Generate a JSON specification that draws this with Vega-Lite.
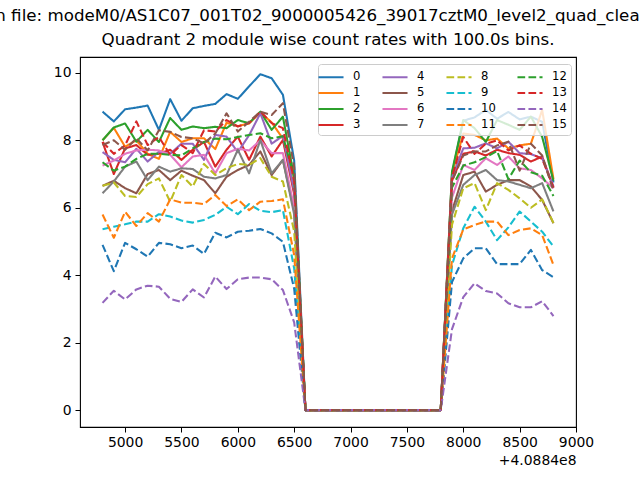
{
  "$schema": "https://vega.github.io/schema/vega-lite/v6.json",
  "width": 496,
  "height": 370,
  "autosize": {"type": "none"},
  "padding": {"left": 80, "top": 57, "right": 64, "bottom": 53},
  "background": "white",
  "title": {
    "text": ["Run file: modeM0/AS1C07_001T02_9000005426_39017cztM0_level2_quad_clean.evt", "Quadrant 2 module wise count rates with 100.0s bins."],
    "anchor": "middle",
    "font": "DejaVu Sans",
    "fontSize": 16.7,
    "fontWeight": "normal",
    "color": "black",
    "lineHeight": 24,
    "offset": 8
  },
  "data": {"values": [
{"t":4800,"m":0,"v":8.85},{"t":4900,"m":0,"v":8.56},{"t":5000,"m":0,"v":8.92},{"t":5100,"m":0,"v":8.97},{"t":5200,"m":0,"v":9.03},{"t":5300,"m":0,"v":8.31},{"t":5400,"m":0,"v":9.22},{"t":5500,"m":0,"v":8.58},{"t":5600,"m":0,"v":8.95},{"t":5700,"m":0,"v":9.02},{"t":5800,"m":0,"v":9.08},{"t":5900,"m":0,"v":9.37},{"t":6000,"m":0,"v":9.23},{"t":6100,"m":0,"v":9.6},{"t":6200,"m":0,"v":9.96},{"t":6300,"m":0,"v":9.84},{"t":6400,"m":0,"v":9.35},{"t":6500,"m":0,"v":7.4},{"t":6600,"m":0,"v":0},{"t":6700,"m":0,"v":0},{"t":6800,"m":0,"v":0},{"t":6900,"m":0,"v":0},{"t":7000,"m":0,"v":0},{"t":7100,"m":0,"v":0},{"t":7200,"m":0,"v":0},{"t":7300,"m":0,"v":0},{"t":7400,"m":0,"v":0},{"t":7500,"m":0,"v":0},{"t":7600,"m":0,"v":0},{"t":7700,"m":0,"v":0},{"t":7800,"m":0,"v":0},{"t":7900,"m":0,"v":7.0},{"t":8000,"m":0,"v":8.58},{"t":8100,"m":0,"v":8.68},{"t":8200,"m":0,"v":8.9},{"t":8300,"m":0,"v":8.64},{"t":8400,"m":0,"v":8.84},{"t":8500,"m":0,"v":8.62},{"t":8600,"m":0,"v":8.7},{"t":8700,"m":0,"v":8.55},{"t":8800,"m":0,"v":6.75},
{"t":4800,"m":1,"v":8.0},{"t":4900,"m":1,"v":8.37},{"t":5000,"m":1,"v":7.81},{"t":5100,"m":1,"v":8.0},{"t":5200,"m":1,"v":7.6},{"t":5300,"m":1,"v":7.45},{"t":5400,"m":1,"v":8.25},{"t":5500,"m":1,"v":7.95},{"t":5600,"m":1,"v":8.06},{"t":5700,"m":1,"v":8.06},{"t":5800,"m":1,"v":7.74},{"t":5900,"m":1,"v":8.52},{"t":6000,"m":1,"v":8.42},{"t":6100,"m":1,"v":8.5},{"t":6200,"m":1,"v":8.83},{"t":6300,"m":1,"v":8.53},{"t":6400,"m":1,"v":8.05},{"t":6500,"m":1,"v":6.6},{"t":6600,"m":1,"v":0},{"t":6700,"m":1,"v":0},{"t":6800,"m":1,"v":0},{"t":6900,"m":1,"v":0},{"t":7000,"m":1,"v":0},{"t":7100,"m":1,"v":0},{"t":7200,"m":1,"v":0},{"t":7300,"m":1,"v":0},{"t":7400,"m":1,"v":0},{"t":7500,"m":1,"v":0},{"t":7600,"m":1,"v":0},{"t":7700,"m":1,"v":0},{"t":7800,"m":1,"v":0},{"t":7900,"m":1,"v":7.0},{"t":8000,"m":1,"v":8.2},{"t":8100,"m":1,"v":8.16},{"t":8200,"m":1,"v":8.0},{"t":8300,"m":1,"v":8.05},{"t":8400,"m":1,"v":7.76},{"t":8500,"m":1,"v":7.85},{"t":8600,"m":1,"v":7.9},{"t":8700,"m":1,"v":8.9},{"t":8800,"m":1,"v":6.85},
{"t":4800,"m":2,"v":8.0},{"t":4900,"m":2,"v":8.38},{"t":5000,"m":2,"v":8.5},{"t":5100,"m":2,"v":7.96},{"t":5200,"m":2,"v":8.31},{"t":5300,"m":2,"v":7.95},{"t":5400,"m":2,"v":8.66},{"t":5500,"m":2,"v":8.31},{"t":5600,"m":2,"v":8.41},{"t":5700,"m":2,"v":8.36},{"t":5800,"m":2,"v":8.4},{"t":5900,"m":2,"v":8.36},{"t":6000,"m":2,"v":8.6},{"t":6100,"m":2,"v":8.51},{"t":6200,"m":2,"v":8.85},{"t":6300,"m":2,"v":8.31},{"t":6400,"m":2,"v":8.7},{"t":6500,"m":2,"v":6.9},{"t":6600,"m":2,"v":0},{"t":6700,"m":2,"v":0},{"t":6800,"m":2,"v":0},{"t":6900,"m":2,"v":0},{"t":7000,"m":2,"v":0},{"t":7100,"m":2,"v":0},{"t":7200,"m":2,"v":0},{"t":7300,"m":2,"v":0},{"t":7400,"m":2,"v":0},{"t":7500,"m":2,"v":0},{"t":7600,"m":2,"v":0},{"t":7700,"m":2,"v":0},{"t":7800,"m":2,"v":0},{"t":7900,"m":2,"v":7.07},{"t":8000,"m":2,"v":8.6},{"t":8100,"m":2,"v":8.36},{"t":8200,"m":2,"v":7.95},{"t":8300,"m":2,"v":8.6},{"t":8400,"m":2,"v":8.46},{"t":8500,"m":2,"v":8.31},{"t":8600,"m":2,"v":8.7},{"t":8700,"m":2,"v":8.1},{"t":8800,"m":2,"v":6.8},
{"t":4800,"m":3,"v":7.95},{"t":4900,"m":3,"v":7.0},{"t":5000,"m":3,"v":7.76},{"t":5100,"m":3,"v":7.86},{"t":5200,"m":3,"v":7.57},{"t":5300,"m":3,"v":7.6},{"t":5400,"m":3,"v":7.72},{"t":5500,"m":3,"v":7.42},{"t":5600,"m":3,"v":7.72},{"t":5700,"m":3,"v":7.95},{"t":5800,"m":3,"v":7.22},{"t":5900,"m":3,"v":7.72},{"t":6000,"m":3,"v":8.11},{"t":6100,"m":3,"v":7.42},{"t":6200,"m":3,"v":8.11},{"t":6300,"m":3,"v":7.52},{"t":6400,"m":3,"v":8.01},{"t":6500,"m":3,"v":6.4},{"t":6600,"m":3,"v":0},{"t":6700,"m":3,"v":0},{"t":6800,"m":3,"v":0},{"t":6900,"m":3,"v":0},{"t":7000,"m":3,"v":0},{"t":7100,"m":3,"v":0},{"t":7200,"m":3,"v":0},{"t":7300,"m":3,"v":0},{"t":7400,"m":3,"v":0},{"t":7500,"m":3,"v":0},{"t":7600,"m":3,"v":0},{"t":7700,"m":3,"v":0},{"t":7800,"m":3,"v":0},{"t":7900,"m":3,"v":6.8},{"t":8000,"m":3,"v":7.6},{"t":8100,"m":3,"v":7.67},{"t":8200,"m":3,"v":7.55},{"t":8300,"m":3,"v":7.72},{"t":8400,"m":3,"v":7.62},{"t":8500,"m":3,"v":7.57},{"t":8600,"m":3,"v":7.37},{"t":8700,"m":3,"v":7.52},{"t":8800,"m":3,"v":6.6},
{"t":4800,"m":4,"v":7.65},{"t":4900,"m":4,"v":7.42},{"t":5000,"m":4,"v":7.35},{"t":5100,"m":4,"v":7.75},{"t":5200,"m":4,"v":7.37},{"t":5300,"m":4,"v":7.66},{"t":5400,"m":4,"v":7.6},{"t":5500,"m":4,"v":7.9},{"t":5600,"m":4,"v":7.9},{"t":5700,"m":4,"v":7.42},{"t":5800,"m":4,"v":8.16},{"t":5900,"m":4,"v":8.11},{"t":6000,"m":4,"v":7.65},{"t":6100,"m":4,"v":8.15},{"t":6200,"m":4,"v":8.8},{"t":6300,"m":4,"v":7.9},{"t":6400,"m":4,"v":8.13},{"t":6500,"m":4,"v":6.5},{"t":6600,"m":4,"v":0},{"t":6700,"m":4,"v":0},{"t":6800,"m":4,"v":0},{"t":6900,"m":4,"v":0},{"t":7000,"m":4,"v":0},{"t":7100,"m":4,"v":0},{"t":7200,"m":4,"v":0},{"t":7300,"m":4,"v":0},{"t":7400,"m":4,"v":0},{"t":7500,"m":4,"v":0},{"t":7600,"m":4,"v":0},{"t":7700,"m":4,"v":0},{"t":7800,"m":4,"v":0},{"t":7900,"m":4,"v":6.9},{"t":8000,"m":4,"v":7.76},{"t":8100,"m":4,"v":7.78},{"t":8200,"m":4,"v":7.91},{"t":8300,"m":4,"v":7.76},{"t":8400,"m":4,"v":7.96},{"t":8500,"m":4,"v":7.62},{"t":8600,"m":4,"v":7.59},{"t":8700,"m":4,"v":7.47},{"t":8800,"m":4,"v":6.63},
{"t":4800,"m":5,"v":6.65},{"t":4900,"m":5,"v":6.8},{"t":5000,"m":5,"v":6.58},{"t":5100,"m":5,"v":6.43},{"t":5200,"m":5,"v":7.0},{"t":5300,"m":5,"v":7.12},{"t":5400,"m":5,"v":6.82},{"t":5500,"m":5,"v":7.1},{"t":5600,"m":5,"v":6.95},{"t":5700,"m":5,"v":6.82},{"t":5800,"m":5,"v":6.43},{"t":5900,"m":5,"v":6.92},{"t":6000,"m":5,"v":7.12},{"t":6100,"m":5,"v":7.27},{"t":6200,"m":5,"v":7.67},{"t":6300,"m":5,"v":6.97},{"t":6400,"m":5,"v":7.42},{"t":6500,"m":5,"v":5.9},{"t":6600,"m":5,"v":0},{"t":6700,"m":5,"v":0},{"t":6800,"m":5,"v":0},{"t":6900,"m":5,"v":0},{"t":7000,"m":5,"v":0},{"t":7100,"m":5,"v":0},{"t":7200,"m":5,"v":0},{"t":7300,"m":5,"v":0},{"t":7400,"m":5,"v":0},{"t":7500,"m":5,"v":0},{"t":7600,"m":5,"v":0},{"t":7700,"m":5,"v":0},{"t":7800,"m":5,"v":0},{"t":7900,"m":5,"v":5.9},{"t":8000,"m":5,"v":6.97},{"t":8100,"m":5,"v":7.07},{"t":8200,"m":5,"v":6.48},{"t":8300,"m":5,"v":6.68},{"t":8400,"m":5,"v":6.82},{"t":8500,"m":5,"v":6.82},{"t":8600,"m":5,"v":6.63},{"t":8700,"m":5,"v":6.23},{"t":8800,"m":5,"v":5.54},
{"t":4800,"m":6,"v":7.25},{"t":4900,"m":6,"v":7.4},{"t":5000,"m":6,"v":7.6},{"t":5100,"m":6,"v":7.7},{"t":5200,"m":6,"v":7.72},{"t":5300,"m":6,"v":7.7},{"t":5400,"m":6,"v":7.57},{"t":5500,"m":6,"v":7.2},{"t":5600,"m":6,"v":7.52},{"t":5700,"m":6,"v":7.57},{"t":5800,"m":6,"v":7.02},{"t":5900,"m":6,"v":7.62},{"t":6000,"m":6,"v":7.75},{"t":6100,"m":6,"v":7.7},{"t":6200,"m":6,"v":8.0},{"t":6300,"m":6,"v":7.62},{"t":6400,"m":6,"v":7.62},{"t":6500,"m":6,"v":6.0},{"t":6600,"m":6,"v":0},{"t":6700,"m":6,"v":0},{"t":6800,"m":6,"v":0},{"t":6900,"m":6,"v":0},{"t":7000,"m":6,"v":0},{"t":7100,"m":6,"v":0},{"t":7200,"m":6,"v":0},{"t":7300,"m":6,"v":0},{"t":7400,"m":6,"v":0},{"t":7500,"m":6,"v":0},{"t":7600,"m":6,"v":0},{"t":7700,"m":6,"v":0},{"t":7800,"m":6,"v":0},{"t":7900,"m":6,"v":6.3},{"t":8000,"m":6,"v":7.27},{"t":8100,"m":6,"v":7.12},{"t":8200,"m":6,"v":7.47},{"t":8300,"m":6,"v":7.27},{"t":8400,"m":6,"v":7.52},{"t":8500,"m":6,"v":7.17},{"t":8600,"m":6,"v":7.12},{"t":8700,"m":6,"v":6.87},{"t":8800,"m":6,"v":6.58},
{"t":4800,"m":7,"v":6.43},{"t":4900,"m":7,"v":6.78},{"t":5000,"m":7,"v":7.22},{"t":5100,"m":7,"v":7.37},{"t":5200,"m":7,"v":6.82},{"t":5300,"m":7,"v":7.22},{"t":5400,"m":7,"v":7.07},{"t":5500,"m":7,"v":7.17},{"t":5600,"m":7,"v":7.15},{"t":5700,"m":7,"v":6.92},{"t":5800,"m":7,"v":6.87},{"t":5900,"m":7,"v":6.97},{"t":6000,"m":7,"v":7.72},{"t":6100,"m":7,"v":7.02},{"t":6200,"m":7,"v":8.01},{"t":6300,"m":7,"v":7.02},{"t":6400,"m":7,"v":7.42},{"t":6500,"m":7,"v":5.8},{"t":6600,"m":7,"v":0},{"t":6700,"m":7,"v":0},{"t":6800,"m":7,"v":0},{"t":6900,"m":7,"v":0},{"t":7000,"m":7,"v":0},{"t":7100,"m":7,"v":0},{"t":7200,"m":7,"v":0},{"t":7300,"m":7,"v":0},{"t":7400,"m":7,"v":0},{"t":7500,"m":7,"v":0},{"t":7600,"m":7,"v":0},{"t":7700,"m":7,"v":0},{"t":7800,"m":7,"v":0},{"t":7900,"m":7,"v":5.8},{"t":8000,"m":7,"v":6.68},{"t":8100,"m":7,"v":6.97},{"t":8200,"m":7,"v":7.12},{"t":8300,"m":7,"v":6.82},{"t":8400,"m":7,"v":6.78},{"t":8500,"m":7,"v":6.68},{"t":8600,"m":7,"v":6.58},{"t":8700,"m":7,"v":6.73},{"t":8800,"m":7,"v":5.89},
{"t":4800,"m":8,"v":6.65},{"t":4900,"m":8,"v":6.75},{"t":5000,"m":8,"v":6.35},{"t":5100,"m":8,"v":6.32},{"t":5200,"m":8,"v":6.7},{"t":5300,"m":8,"v":6.87},{"t":5400,"m":8,"v":6.18},{"t":5500,"m":8,"v":6.97},{"t":5600,"m":8,"v":6.63},{"t":5700,"m":8,"v":7.3},{"t":5800,"m":8,"v":6.97},{"t":5900,"m":8,"v":7.17},{"t":6000,"m":8,"v":7.3},{"t":6100,"m":8,"v":7.27},{"t":6200,"m":8,"v":7.47},{"t":6300,"m":8,"v":6.92},{"t":6400,"m":8,"v":6.78},{"t":6500,"m":8,"v":5.3},{"t":6600,"m":8,"v":0},{"t":6700,"m":8,"v":0},{"t":6800,"m":8,"v":0},{"t":6900,"m":8,"v":0},{"t":7000,"m":8,"v":0},{"t":7100,"m":8,"v":0},{"t":7200,"m":8,"v":0},{"t":7300,"m":8,"v":0},{"t":7400,"m":8,"v":0},{"t":7500,"m":8,"v":0},{"t":7600,"m":8,"v":0},{"t":7700,"m":8,"v":0},{"t":7800,"m":8,"v":0},{"t":7900,"m":8,"v":5.5},{"t":8000,"m":8,"v":6.58},{"t":8100,"m":8,"v":6.73},{"t":8200,"m":8,"v":5.93},{"t":8300,"m":8,"v":6.73},{"t":8400,"m":8,"v":6.53},{"t":8500,"m":8,"v":6.28},{"t":8600,"m":8,"v":6.0},{"t":8700,"m":8,"v":6.25},{"t":8800,"m":8,"v":5.55},
{"t":4800,"m":9,"v":5.36},{"t":4900,"m":9,"v":5.44},{"t":5000,"m":9,"v":5.51},{"t":5100,"m":9,"v":5.59},{"t":5200,"m":9,"v":5.59},{"t":5300,"m":9,"v":5.81},{"t":5400,"m":9,"v":5.74},{"t":5500,"m":9,"v":5.62},{"t":5600,"m":9,"v":5.56},{"t":5700,"m":9,"v":5.64},{"t":5800,"m":9,"v":5.79},{"t":5900,"m":9,"v":6.03},{"t":6000,"m":9,"v":5.81},{"t":6100,"m":9,"v":6.11},{"t":6200,"m":9,"v":5.91},{"t":6300,"m":9,"v":5.87},{"t":6400,"m":9,"v":5.93},{"t":6500,"m":9,"v":4.2},{"t":6600,"m":9,"v":0},{"t":6700,"m":9,"v":0},{"t":6800,"m":9,"v":0},{"t":6900,"m":9,"v":0},{"t":7000,"m":9,"v":0},{"t":7100,"m":9,"v":0},{"t":7200,"m":9,"v":0},{"t":7300,"m":9,"v":0},{"t":7400,"m":9,"v":0},{"t":7500,"m":9,"v":0},{"t":7600,"m":9,"v":0},{"t":7700,"m":9,"v":0},{"t":7800,"m":9,"v":0},{"t":7900,"m":9,"v":4.3},{"t":8000,"m":9,"v":5.39},{"t":8100,"m":9,"v":6.03},{"t":8200,"m":9,"v":5.59},{"t":8300,"m":9,"v":5.04},{"t":8400,"m":9,"v":5.42},{"t":8500,"m":9,"v":5.89},{"t":8600,"m":9,"v":5.59},{"t":8700,"m":9,"v":5.29},{"t":8800,"m":9,"v":4.85},
{"t":4800,"m":10,"v":4.9},{"t":4900,"m":10,"v":4.12},{"t":5000,"m":10,"v":4.96},{"t":5100,"m":10,"v":4.77},{"t":5200,"m":10,"v":4.55},{"t":5300,"m":10,"v":4.96},{"t":5400,"m":10,"v":4.92},{"t":5500,"m":10,"v":4.8},{"t":5600,"m":10,"v":4.88},{"t":5700,"m":10,"v":4.63},{"t":5800,"m":10,"v":5.26},{"t":5900,"m":10,"v":5.12},{"t":6000,"m":10,"v":5.29},{"t":6100,"m":10,"v":5.32},{"t":6200,"m":10,"v":5.37},{"t":6300,"m":10,"v":5.24},{"t":6400,"m":10,"v":4.99},{"t":6500,"m":10,"v":3.6},{"t":6600,"m":10,"v":0},{"t":6700,"m":10,"v":0},{"t":6800,"m":10,"v":0},{"t":6900,"m":10,"v":0},{"t":7000,"m":10,"v":0},{"t":7100,"m":10,"v":0},{"t":7200,"m":10,"v":0},{"t":7300,"m":10,"v":0},{"t":7400,"m":10,"v":0},{"t":7500,"m":10,"v":0},{"t":7600,"m":10,"v":0},{"t":7700,"m":10,"v":0},{"t":7800,"m":10,"v":0},{"t":7900,"m":10,"v":3.8},{"t":8000,"m":10,"v":4.5},{"t":8100,"m":10,"v":4.8},{"t":8200,"m":10,"v":4.8},{"t":8300,"m":10,"v":4.33},{"t":8400,"m":10,"v":4.33},{"t":8500,"m":10,"v":4.33},{"t":8600,"m":10,"v":4.75},{"t":8700,"m":10,"v":4.15},{"t":8800,"m":10,"v":3.94},
{"t":4800,"m":11,"v":5.8},{"t":4900,"m":11,"v":5.11},{"t":5000,"m":11,"v":5.88},{"t":5100,"m":11,"v":5.46},{"t":5200,"m":11,"v":5.84},{"t":5300,"m":11,"v":5.59},{"t":5400,"m":11,"v":6.25},{"t":5500,"m":11,"v":6.15},{"t":5600,"m":11,"v":6.15},{"t":5700,"m":11,"v":6.11},{"t":5800,"m":11,"v":6.38},{"t":5900,"m":11,"v":6.05},{"t":6000,"m":11,"v":6.25},{"t":6100,"m":11,"v":5.93},{"t":6200,"m":11,"v":6.18},{"t":6300,"m":11,"v":6.2},{"t":6400,"m":11,"v":6.25},{"t":6500,"m":11,"v":4.6},{"t":6600,"m":11,"v":0},{"t":6700,"m":11,"v":0},{"t":6800,"m":11,"v":0},{"t":6900,"m":11,"v":0},{"t":7000,"m":11,"v":0},{"t":7100,"m":11,"v":0},{"t":7200,"m":11,"v":0},{"t":7300,"m":11,"v":0},{"t":7400,"m":11,"v":0},{"t":7500,"m":11,"v":0},{"t":7600,"m":11,"v":0},{"t":7700,"m":11,"v":0},{"t":7800,"m":11,"v":0},{"t":7900,"m":11,"v":4.5},{"t":8000,"m":11,"v":5.36},{"t":8100,"m":11,"v":5.49},{"t":8200,"m":11,"v":5.59},{"t":8300,"m":11,"v":5.59},{"t":8400,"m":11,"v":5.19},{"t":8500,"m":11,"v":5.34},{"t":8600,"m":11,"v":5.39},{"t":8700,"m":11,"v":5.19},{"t":8800,"m":11,"v":4.3},
{"t":4800,"m":12,"v":7.35},{"t":4900,"m":12,"v":7.1},{"t":5000,"m":12,"v":7.22},{"t":5100,"m":12,"v":7.45},{"t":5200,"m":12,"v":7.6},{"t":5300,"m":12,"v":7.6},{"t":5400,"m":12,"v":7.57},{"t":5500,"m":12,"v":7.55},{"t":5600,"m":12,"v":7.76},{"t":5700,"m":12,"v":7.95},{"t":5800,"m":12,"v":8.05},{"t":5900,"m":12,"v":8.03},{"t":6000,"m":12,"v":8.1},{"t":6100,"m":12,"v":8.16},{"t":6200,"m":12,"v":8.21},{"t":6300,"m":12,"v":8.06},{"t":6400,"m":12,"v":8.12},{"t":6500,"m":12,"v":6.9},{"t":6600,"m":12,"v":0},{"t":6700,"m":12,"v":0},{"t":6800,"m":12,"v":0},{"t":6900,"m":12,"v":0},{"t":7000,"m":12,"v":0},{"t":7100,"m":12,"v":0},{"t":7200,"m":12,"v":0},{"t":7300,"m":12,"v":0},{"t":7400,"m":12,"v":0},{"t":7500,"m":12,"v":0},{"t":7600,"m":12,"v":0},{"t":7700,"m":12,"v":0},{"t":7800,"m":12,"v":0},{"t":7900,"m":12,"v":6.6},{"t":8000,"m":12,"v":7.25},{"t":8100,"m":12,"v":7.35},{"t":8200,"m":12,"v":7.5},{"t":8300,"m":12,"v":7.68},{"t":8400,"m":12,"v":6.85},{"t":8500,"m":12,"v":7.4},{"t":8600,"m":12,"v":7.05},{"t":8700,"m":12,"v":6.95},{"t":8800,"m":12,"v":6.35},
{"t":4800,"m":13,"v":7.95},{"t":4900,"m":13,"v":7.6},{"t":5000,"m":13,"v":7.85},{"t":5100,"m":13,"v":8.56},{"t":5200,"m":13,"v":7.86},{"t":5300,"m":13,"v":8.1},{"t":5400,"m":13,"v":7.57},{"t":5500,"m":13,"v":7.86},{"t":5600,"m":13,"v":7.62},{"t":5700,"m":13,"v":8.3},{"t":5800,"m":13,"v":8.26},{"t":5900,"m":13,"v":8.6},{"t":6000,"m":13,"v":8.41},{"t":6100,"m":13,"v":8.51},{"t":6200,"m":13,"v":8.85},{"t":6300,"m":13,"v":8.51},{"t":6400,"m":13,"v":8.36},{"t":6500,"m":13,"v":6.8},{"t":6600,"m":13,"v":0},{"t":6700,"m":13,"v":0},{"t":6800,"m":13,"v":0},{"t":6900,"m":13,"v":0},{"t":7000,"m":13,"v":0},{"t":7100,"m":13,"v":0},{"t":7200,"m":13,"v":0},{"t":7300,"m":13,"v":0},{"t":7400,"m":13,"v":0},{"t":7500,"m":13,"v":0},{"t":7600,"m":13,"v":0},{"t":7700,"m":13,"v":0},{"t":7800,"m":13,"v":0},{"t":7900,"m":13,"v":6.9},{"t":8000,"m":13,"v":8.1},{"t":8100,"m":13,"v":7.6},{"t":8200,"m":13,"v":7.9},{"t":8300,"m":13,"v":8.0},{"t":8400,"m":13,"v":7.7},{"t":8500,"m":13,"v":7.85},{"t":8600,"m":13,"v":7.6},{"t":8700,"m":13,"v":7.45},{"t":8800,"m":13,"v":6.6},
{"t":4800,"m":14,"v":3.18},{"t":4900,"m":14,"v":3.54},{"t":5000,"m":14,"v":3.28},{"t":5100,"m":14,"v":3.58},{"t":5200,"m":14,"v":3.69},{"t":5300,"m":14,"v":3.66},{"t":5400,"m":14,"v":3.3},{"t":5500,"m":14,"v":3.21},{"t":5600,"m":14,"v":3.58},{"t":5700,"m":14,"v":3.34},{"t":5800,"m":14,"v":3.96},{"t":5900,"m":14,"v":3.59},{"t":6000,"m":14,"v":3.88},{"t":6100,"m":14,"v":3.93},{"t":6200,"m":14,"v":3.93},{"t":6300,"m":14,"v":3.88},{"t":6400,"m":14,"v":3.56},{"t":6500,"m":14,"v":2.6},{"t":6600,"m":14,"v":0},{"t":6700,"m":14,"v":0},{"t":6800,"m":14,"v":0},{"t":6900,"m":14,"v":0},{"t":7000,"m":14,"v":0},{"t":7100,"m":14,"v":0},{"t":7200,"m":14,"v":0},{"t":7300,"m":14,"v":0},{"t":7400,"m":14,"v":0},{"t":7500,"m":14,"v":0},{"t":7600,"m":14,"v":0},{"t":7700,"m":14,"v":0},{"t":7800,"m":14,"v":0},{"t":7900,"m":14,"v":2.4},{"t":8000,"m":14,"v":3.35},{"t":8100,"m":14,"v":3.76},{"t":8200,"m":14,"v":3.53},{"t":8300,"m":14,"v":3.46},{"t":8400,"m":14,"v":3.17},{"t":8500,"m":14,"v":3.05},{"t":8600,"m":14,"v":3.05},{"t":8700,"m":14,"v":3.23},{"t":8800,"m":14,"v":2.79},
{"t":4800,"m":15,"v":7.86},{"t":4900,"m":15,"v":8.0},{"t":5000,"m":15,"v":7.72},{"t":5100,"m":15,"v":8.06},{"t":5200,"m":15,"v":7.7},{"t":5300,"m":15,"v":8.3},{"t":5400,"m":15,"v":8.25},{"t":5500,"m":15,"v":8.1},{"t":5600,"m":15,"v":8.06},{"t":5700,"m":15,"v":7.91},{"t":5800,"m":15,"v":8.2},{"t":5900,"m":15,"v":8.8},{"t":6000,"m":15,"v":8.26},{"t":6100,"m":15,"v":8.55},{"t":6200,"m":15,"v":8.85},{"t":6300,"m":15,"v":8.75},{"t":6400,"m":15,"v":9.1},{"t":6500,"m":15,"v":7.2},{"t":6600,"m":15,"v":0},{"t":6700,"m":15,"v":0},{"t":6800,"m":15,"v":0},{"t":6900,"m":15,"v":0},{"t":7000,"m":15,"v":0},{"t":7100,"m":15,"v":0},{"t":7200,"m":15,"v":0},{"t":7300,"m":15,"v":0},{"t":7400,"m":15,"v":0},{"t":7500,"m":15,"v":0},{"t":7600,"m":15,"v":0},{"t":7700,"m":15,"v":0},{"t":7800,"m":15,"v":0},{"t":7900,"m":15,"v":6.8},{"t":8000,"m":15,"v":7.55},{"t":8100,"m":15,"v":7.67},{"t":8200,"m":15,"v":7.67},{"t":8300,"m":15,"v":7.85},{"t":8400,"m":15,"v":7.96},{"t":8500,"m":15,"v":7.1},{"t":8600,"m":15,"v":7.9},{"t":8700,"m":15,"v":7.55},{"t":8800,"m":15,"v":6.5}
  ]},
  "mark": {"type": "line", "strokeWidth": 2.08, "strokeCap": "butt", "strokeJoin": "round"},
  "encoding": {
    "x": {
      "field": "t", "type": "quantitative",
      "scale": {"domain": [4600, 9000], "nice": false, "zero": false},
      "axis": {
        "values": [5000, 5500, 6000, 6500, 7000, 7500, 8000, 8500, 9000],
        "format": "d", "grid": false, "domain": false,
        "tickSize": 5, "tickColor": "black", "tickWidth": 1,
        "labelFont": "DejaVu Sans", "labelFontSize": 13.9, "labelColor": "black",
        "labelPadding": 3, "labelFlush": false, "labelOverlap": false,
        "title": "+4.0884e8", "titleFont": "DejaVu Sans", "titleFontSize": 13.9,
        "titleFontWeight": "normal", "titleColor": "black",
        "titleX": 496, "titleY": 26, "titleAlign": "right", "titleBaseline": "top", "titleAnchor": null
      }
    },
    "y": {
      "field": "v", "type": "quantitative",
      "scale": {"domain": [-0.5, 10.47], "nice": false, "zero": false},
      "axis": {
        "values": [0, 2, 4, 6, 8, 10],
        "grid": false, "domain": false,
        "tickSize": 5, "tickColor": "black", "tickWidth": 1,
        "labelFont": "DejaVu Sans", "labelFontSize": 13.9, "labelColor": "black",
        "labelPadding": 4, "title": null
      }
    },
    "color": {
      "field": "m", "type": "nominal",
      "scale": {
        "domain": [0, 1, 2, 3, 4, 5, 6, 7, 8, 9, 10, 11, 12, 13, 14, 15],
        "range": ["#1f77b4", "#ff7f0e", "#2ca02c", "#d62728", "#9467bd", "#8c564b", "#e377c2", "#7f7f7f", "#bcbd22", "#17becf", "#1f77b4", "#ff7f0e", "#2ca02c", "#d62728", "#9467bd", "#8c564b"]
      },
      "legend": {
        "title": null, "orient": "none", "legendX": 238, "legendY": 7,
        "columns": 4, "columnPadding": 17, "rowPadding": 1,
        "symbolType": "M-1.67,0H1.67", "symbolSize": 225, "symbolStrokeWidth": 2.1,
        "labelFont": "DejaVu Sans", "labelFontSize": 11.6, "labelColor": "black", "labelOffset": 13,
        "padding": 4, "fillColor": "rgba(255,255,255,0.8)", "strokeColor": "#cccccc", "cornerRadius": 3
      }
    },
    "strokeDash": {
      "field": "m", "type": "nominal",
      "scale": {
        "domain": [0, 1, 2, 3, 4, 5, 6, 7, 8, 9, 10, 11, 12, 13, 14, 15],
        "range": [[1, 0], [1, 0], [1, 0], [1, 0], [1, 0], [1, 0], [1, 0], [1, 0], [7.7, 3.3], [7.7, 3.3], [7.7, 3.3], [7.7, 3.3], [7.7, 3.3], [7.7, 3.3], [7.7, 3.3], [7.7, 3.3]]
      }
    }
  },
  "config": {
    "font": "DejaVu Sans",
    "view": {"stroke": "black", "strokeWidth": 1.1}
  }
}
